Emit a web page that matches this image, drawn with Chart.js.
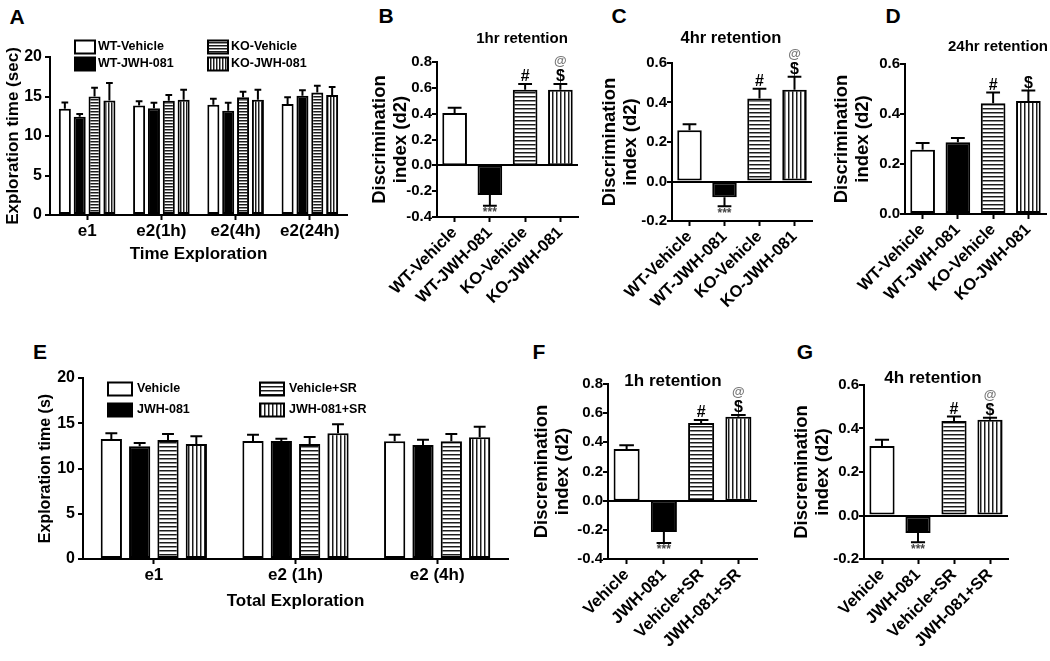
<!DOCTYPE html>
<html>
<head>
<meta charset="utf-8">
<script src="https://cdn.jsdelivr.net/npm/chart.js@4.4.0/dist/chart.umd.min.js"></script>
<style>
    body { margin: 0; background: #fff; width: 1050px; height: 661px; position: relative; overflow: hidden; font-family: "Liberation Sans", Arial, sans-serif; }
    canvas { position: absolute; }
    .lbl { position: absolute; font-weight: bold; font-size: 21px; line-height: 1; transform: translate(-50%, -50%); }
    .ttl { position: absolute; font-weight: bold; line-height: 1; white-space: nowrap; transform: translate(-50%, -50%); }
</style>
</head>
<body>
<div class="lbl" style="left:17px;top:16px">A</div>
<div class="lbl" style="left:386px;top:15px">B</div>
<div class="lbl" style="left:619px;top:15px">C</div>
<div class="lbl" style="left:893px;top:15px">D</div>
<div class="lbl" style="left:40px;top:351px">E</div>
<div class="lbl" style="left:539px;top:351px">F</div>
<div class="lbl" style="left:805px;top:351px">G</div>

<canvas id="chartA" width="355" height="280" style="left:0;top:0"></canvas>
<canvas id="chartB" width="225" height="330" style="left:360px;top:0"></canvas>
<canvas id="chartC" width="222" height="330" style="left:596px;top:0"></canvas>
<canvas id="chartD" width="222" height="330" style="left:828px;top:0"></canvas>
<canvas id="chartE" width="495" height="290" style="left:20px;top:330px"></canvas>
<canvas id="chartF" width="245" height="325" style="left:520px;top:330px"></canvas>
<canvas id="chartG" width="235" height="325" style="left:780px;top:330px"></canvas>

<div class="ttl" style="left:522px;top:37px;font-size:15px">1hr retention</div>
<div class="ttl" style="left:731px;top:37px;font-size:16.5px">4hr retention</div>
<div class="ttl" style="left:998px;top:45px;font-size:15px">24hr retention</div>
<div class="ttl" style="left:673px;top:380px;font-size:17px">1h retention</div>
<div class="ttl" style="left:933px;top:377px;font-size:17px">4h retention</div>

<script>
// Panel A - exploration time (sec), WT vs KO
const aCats = ['e1', 'e2(1h)', 'e2(4h)', 'e2(24h)'];
const aWtVeh = [13.45, 13.85, 13.95, 14.05];
const aWtVehErr = [0.8, 0.55, 0.75, 0.85];
const aWtJwh = [12.45, 13.5, 13.2, 15.1];
const aWtJwhErr = [0.35, 0.7, 1.0, 0.7];
const aKoVeh = [15.0, 14.45, 14.9, 15.5];
const aKoVehErr = [1.1, 0.75, 0.7, 0.85];
const aKoJwh = [14.5, 14.6, 14.6, 15.2];
const aKoJwhErr = [2.2, 1.25, 1.25, 1.0];

// Panels B-D - discrimination index, WT vs KO
const koLabels = ['WT-Vehicle', 'WT-JWH-081', 'KO-Vehicle', 'KO-JWH-081'];
const bVals = [0.405, -0.23, 0.585, 0.585];
const bErr = [0.04, 0.083, 0.045, 0.045];
const bMarks = ['', '***', '#', '$'];
const bMarksTop = ['', '', '', '@'];
const cVals = [0.26, -0.08, 0.42, 0.465];
const cErr = [0.03, 0.045, 0.05, 0.065];
const cMarks = ['', '***', '#', '$'];
const cMarksTop = ['', '', '', '@'];
const dVals = [0.257, 0.287, 0.443, 0.452];
const dErr = [0.027, 0.017, 0.043, 0.042];
const dMarks = ['', '', '#', '$'];
const dMarksTop = ['', '', '', ''];

// Panel E - exploration time (s), SR co-treatment
const eCats = ['e1', 'e2 (1h)', 'e2 (4h)'];
const eVeh = [13.25, 13.05, 13.0];
const eVehErr = [0.65, 0.68, 0.73];
const eJwh = [12.45, 13.05, 12.6];
const eJwhErr = [0.37, 0.25, 0.57];
const eVehSr = [13.15, 12.7, 13.0];
const eVehSrErr = [0.65, 0.77, 0.8];
const eJwhSr = [12.7, 13.9, 13.45];
const eJwhSrErr = [0.85, 1.0, 1.15];

// Panels F-G - discrimination index, SR co-treatment
const srLabels = ['Vehicle', 'JWH-081', 'Vehicle+SR', 'JWH-081+SR'];
const fVals = [0.355, -0.215, 0.532, 0.575];
const fErr = [0.025, 0.075, 0.022, 0.013];
const fMarks = ['', '***', '#', '$'];
const fMarksTop = ['', '', '', '@'];
const gVals = [0.32, -0.081, 0.435, 0.44];
const gErr = [0.028, 0.042, 0.02, 0.01];
const gMarks = ['', '***', '#', '$'];
const gMarksTop = ['', '', '', '@'];

const FONT = '"Liberation Sans", Arial, sans-serif';
const fnt = (size, lh) => ({ family: FONT, size: size, weight: 'bold', lineHeight: lh || 1.2 });

// striped fills like the GraphPad hatches
function stripes(dir, period) {
    const c = document.createElement('canvas');
    c.width = period; c.height = period;
    const g = c.getContext('2d');
    g.fillStyle = '#fff'; g.fillRect(0, 0, period, period);
    g.fillStyle = '#1c1c1c';
    if (dir === 'h') g.fillRect(0, 0, period, 1); else g.fillRect(0, 0, 1, period);
    g.fillStyle = '#909090';
    if (dir === 'h') g.fillRect(0, 1, period, 1); else g.fillRect(1, 0, 1, period);
    return g.createPattern(c, 'repeat');
}
const hSmall = stripes('h', 3), vSmall = stripes('v', 3);
const hBig = stripes('h', 4), vBig = stripes('v', 4);

// error bars (one-sided SEM) plus significance marks
const errorBars = {
    id: 'errorBars',
    afterDatasetsDraw(chart) {
        const ctx = chart.ctx;
        const yScale = chart.scales.y;
        chart.data.datasets.forEach((ds, di) => {
            const meta = chart.getDatasetMeta(di);
            meta.data.forEach((bar, i) => {
                const v = ds.data[i];
                const sign = v < 0 ? -1 : 1;
                const yEnd = yScale.getPixelForValue(v + sign * ds.err[i]);
                const half = bar.width * 0.28;
                ctx.save();
                ctx.strokeStyle = '#000';
                ctx.lineWidth = 2;
                ctx.beginPath();
                ctx.moveTo(bar.x, bar.y); ctx.lineTo(bar.x, yEnd);
                ctx.moveTo(bar.x - half, yEnd); ctx.lineTo(bar.x + half, yEnd);
                ctx.stroke();
                ctx.textAlign = 'center';
                const m = ds.marks ? ds.marks[i] : '';
                if (m === '***') {
                    ctx.fillStyle = '#444';
                    ctx.font = `bold 12px ${FONT}`;
                    ctx.textBaseline = 'top';
                    ctx.fillText(m, bar.x, yEnd + 1);
                } else if (m) {
                    ctx.fillStyle = '#000';
                    ctx.font = `bold 16px ${FONT}`;
                    ctx.textBaseline = 'alphabetic';
                    ctx.fillText(m, bar.x, yEnd - 3);
                }
                const t = ds.marksTop ? ds.marksTop[i] : '';
                if (t) {
                    ctx.fillStyle = '#777';
                    ctx.font = `bold 13px ${FONT}`;
                    ctx.textBaseline = 'alphabetic';
                    ctx.fillText(t, bar.x, yEnd - 19);
                }
                ctx.restore();
            });
        });
    }
};

// two-column boxed legend drawn inside the plot
function boxLegend(o) {
    return {
        id: 'boxLegend',
        afterDraw(chart) {
            const ctx = chart.ctx, a = chart.chartArea;
            ctx.save();
            ctx.font = `bold ${o.size}px ${FONT}`;
            ctx.textBaseline = 'middle';
            ctx.textAlign = 'left';
            chart.data.datasets.forEach((ds, k) => {
                const col = Math.floor(k / 2), row = k % 2;
                const x = a.left + o.dx[col], y = a.top + o.dy[row];
                ctx.fillStyle = ds.backgroundColor;
                ctx.fillRect(x, y - o.h / 2, o.w, o.h);
                ctx.lineWidth = 2;
                ctx.strokeStyle = '#000';
                ctx.strokeRect(x, y - o.h / 2, o.w, o.h);
                ctx.fillStyle = '#000';
                ctx.fillText(ds.label, x + o.w + o.gap, y);
            });
            ctx.restore();
        }
    };
}

function makeChart(id, labels, datasets, o) {
    return new Chart(document.getElementById(id), {
        type: 'bar',
        data: { labels: labels, datasets: datasets },
        options: {
            responsive: false,
            animation: false,
            layout: { padding: { top: o.padTop, right: o.padRight, left: 0, bottom: 0 } },
            plugins: { legend: { display: false }, tooltip: { enabled: false } },
            scales: {
                x: {
                    offset: true,
                    ticks: { color: '#000', font: fnt(o.xSize), autoSkip: false, minRotation: o.rot, maxRotation: o.rot, padding: 1 },
                    grid: { offset: false, drawOnChartArea: false, tickColor: '#000', tickLength: 5, tickWidth: 2 },
                    border: { color: '#000', width: 2 },
                    title: { display: !!o.xTitle, text: o.xTitle, color: '#000', font: fnt(17), padding: { top: 0, bottom: o.xTitlePad } },
                    afterFit: s => { s.height = o.xH; }
                },
                y: {
                    min: o.min, max: o.max,
                    ticks: { stepSize: o.step, color: '#000', font: fnt(o.ySize), padding: o.yPad, callback: o.fmt },
                    grid: {
                        drawOnChartArea: true,
                        color: c => (o.min < 0 && Math.abs(c.tick.value) < 1e-9) ? '#000' : 'rgba(0,0,0,0)',
                        lineWidth: 2, tickColor: '#000', tickLength: 5, tickWidth: 2
                    },
                    border: { color: '#000', width: 2 },
                    title: { display: true, text: o.yTitle, color: '#000', font: fnt(o.yTitleSize, o.yTitleLh),
                        padding: { top: o.yTitlePad, bottom: 0 } },
                    afterFit: s => { s.width = o.yW; }
                }
            }
        },
        plugins: o.legend ? [errorBars, o.legend] : [errorBars]
    });
}

const dec1 = v => Math.abs(v) < 1e-9 ? '0.0' : v.toFixed(1);
const ints = v => String(v);

function groupSet(label, data, err, fill, barPct) {
    return { label: label, data: data, err: err, backgroundColor: fill, borderColor: '#000', borderWidth: 2,
        borderSkipped: false, barPercentage: barPct, categoryPercentage: 0.8 };
}

function indexSet(vals, err, marks, marksTop) {
    return { data: vals, err: err, marks: marks, marksTop: marksTop, backgroundColor: ['#fff', '#000', hBig, vBig],
        borderColor: '#000', borderWidth: 2, borderSkipped: false, barPercentage: 0.7, categoryPercentage: 1 };
}

function init() {
    makeChart('chartA', aCats, [
        groupSet('WT-Vehicle', aWtVeh, aWtVehErr, '#fff', 0.81),
        groupSet('WT-JWH-081', aWtJwh, aWtJwhErr, '#000', 0.81),
        groupSet('KO-Vehicle', aKoVeh, aKoVehErr, hSmall, 0.81),
        groupSet('KO-JWH-081', aKoJwh, aKoJwhErr, vSmall, 0.81)
    ], { padTop: 57, padRight: 8, xH: 65, yW: 50, rot: 0, xSize: 17, ySize: 16, yPad: 3, min: 0, max: 20, step: 5, fmt: ints,
         xTitle: 'Time Exploration', xTitlePad: 15, yTitle: 'Exploration time (sec)', yTitleSize: 17, yTitlePad: 3,
         legend: boxLegend({ size: 12.5, dx: [25, 158], dy: [-10, 7], w: 20, h: 13, gap: 3 }) });

    const idx = { rot: 45, xSize: 16.5, ySize: 15, yPad: 0, fmt: dec1, step: 0.2, yTitleSize: 18.5, yTitleLh: 1.1 };

    makeChart('chartB', koLabels, [indexSet(bVals, bErr, bMarks, bMarksTop)],
        Object.assign({}, idx, { padTop: 62, padRight: 7, xH: 113, yW: 77, min: -0.4, max: 0.8,
            yTitle: ['Discrimination', 'index (d2)'], yTitlePad: 10 }));
    makeChart('chartC', koLabels, [indexSet(cVals, cErr, cMarks, cMarksTop)],
        Object.assign({}, idx, { padTop: 63, padRight: 6, xH: 109, yW: 76, min: -0.2, max: 0.6,
            yTitle: ['Discrimination', 'index (d2)'], yTitlePad: 4 }));
    makeChart('chartD', koLabels, [indexSet(dVals, dErr, dMarks, dMarksTop)],
        Object.assign({}, idx, { padTop: 64, padRight: 4, xH: 116, yW: 77, min: 0, max: 0.6,
            yTitle: ['Discrimination', 'index (d2)'], yTitlePad: 4 }));

    makeChart('chartE', eCats, [
        groupSet('Vehicle', eVeh, eVehErr, '#fff', 0.75),
        groupSet('JWH-081', eJwh, eJwhErr, '#000', 0.75),
        groupSet('Vehicle+SR', eVehSr, eVehSrErr, hBig, 0.75),
        groupSet('JWH-081+SR', eJwhSr, eJwhSrErr, vBig, 0.75)
    ], { padTop: 48, padRight: 7, xH: 61, yW: 63, rot: 0, xSize: 17, ySize: 16, yPad: 3, min: 0, max: 20, step: 5, fmt: ints,
         xTitle: 'Total Exploration', xTitlePad: 8, yTitle: 'Exploration time (s)', yTitleSize: 16, yTitlePad: 16,
         legend: boxLegend({ size: 12.5, dx: [25, 177], dy: [11, 32], w: 24, h: 13, gap: 5 }) });

    makeChart('chartF', srLabels, [indexSet(fVals, fErr, fMarks, fMarksTop)],
        Object.assign({}, idx, { padTop: 54, padRight: 8, xH: 96, yW: 88, min: -0.4, max: 0.8,
            yTitle: ['Discremination', 'index (d2)'], yTitlePad: 12 }));
    makeChart('chartG', srLabels, [indexSet(gVals, gErr, gMarks, gMarksTop)],
        Object.assign({}, idx, { padTop: 55, padRight: 7, xH: 96, yW: 84, min: -0.2, max: 0.6,
            yTitle: ['Discremination', 'index (d2)'], yTitlePad: 12 }));
}

window.onload = init;
</script>
</body>
</html>
